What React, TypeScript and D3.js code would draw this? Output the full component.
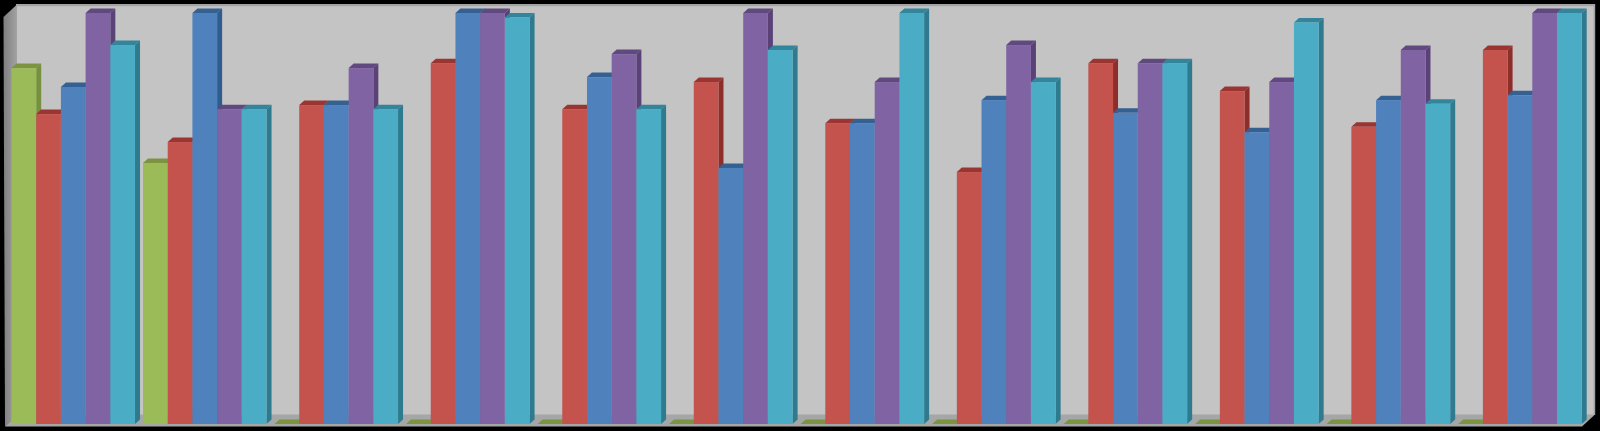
import React from "react";
import * as d3 from "d3";

const groups = ["1", "2", "3", "4", "5", "6", "7", "8", "9", "10", "11", "12"];
const seriesNames = ["green", "red", "blue", "purple", "cyan"];
const green = [86.6, 63.5, 0, 0, 0, 0, 0, 0, 0, 0, 0, 0];
const red = [75.4, 68.6, 77.6, 87.8, 76.6, 83.2, 73.2, 61.3, 87.8, 81, 72.3, 91];
const blue = [82, 100, 77.6, 100, 84.4, 62.3, 73.2, 78.8, 75.7, 71, 78.8, 80];
const purple = [100, 76.6, 86.6, 100, 90, 100, 83.2, 92.2, 87.8, 83.2, 91, 100];
const cyan = [92.2, 76.6, 76.6, 98.9, 76.6, 91, 100, 83.2, 87.8, 97.7, 77.9, 100];
const seriesValues = [green, red, blue, purple, cyan];
const frontColors = ["#9BBB59", "#C4524E", "#4F81BD", "#8064A2", "#4BACC6"];
const sideColors = ["#76913C", "#8E2F2C", "#2F5B8C", "#5A4278", "#2F7A8F"];
const topColors = ["#7C9440", "#9A3633", "#366092", "#5F4A7E", "#31859B"];

const W = 1600;
const H = 431;
const DX = 5;
const DY = 4.5;

export default function App() {
  const x0 = d3
    .scaleBand<string>()
    .domain(groups)
    .range([11.5, 1581.7])
    .paddingInner(8 / 131.5)
    .paddingOuter(0);
  const x1 = d3
    .scaleBand<string>()
    .domain(seriesNames)
    .range([0, x0.bandwidth()]);
  const y = d3.scaleLinear().domain([0, 100]).range([424, 13]);
  const pts = (p: number[][]) => p.map((q) => q.join(",")).join(" ");
  const base = y(0);

  return (
    <svg
      width={W}
      height={H}
      viewBox={`0 0 ${W} ${H}`}
      style={{ position: "fixed", left: 0, top: 0, display: "block", background: "#000" }}
    >
      <defs>
        <linearGradient id="sideWall" x1="0" y1="0" x2="1" y2="0">
          <stop offset="0" stopColor="#7f7f7f" />
          <stop offset="1" stopColor="#a2a2a2" />
        </linearGradient>
        <filter id="soft" x="0" y="0" width="100%" height="100%">
          <feGaussianBlur stdDeviation="0.6" />
        </filter>
      </defs>
      <g filter="url(#soft)">
        <rect x={16} y={4} width={1579} height={411} fill="#c4c4c4" />
        <rect x={16} y={4} width={1579} height={2.2} fill="#a3a3a3" />
        <rect x={1593.6} y={4} width={1.6} height={411} fill="#a3a3a3" />
        <polygon points={pts([[3.5, 17], [17, 4.5], [17, 415], [5, 426.5]])} fill="url(#sideWall)" />
        <polygon points={pts([[5, 426.5], [17, 414.5], [1595, 414.5], [1582, 426.5]])} fill="#a5a6a6" />
        {groups.map((g, gi) => (
          <g key={g}>
            {seriesNames.map((s, si) => {
              const left = (x0(g) as number) + (x1(s) as number);
              const right = left + x1.bandwidth();
              const top = y(seriesValues[si][gi]);
              return (
                <g key={s}>
                  <polygon
                    points={pts([[left, top], [left + DX, top - DY], [right + DX, top - DY], [right, top]])}
                    fill={topColors[si]}
                  />
                  <polygon
                    points={pts([[right, top], [right + DX, top - DY], [right + DX, base - DY], [right, base]])}
                    fill={sideColors[si]}
                  />
                  <rect x={left} y={top} width={x1.bandwidth()} height={base - top} fill={frontColors[si]} />
                </g>
              );
            })}
          </g>
        ))}
      </g>
    </svg>
  );
}
